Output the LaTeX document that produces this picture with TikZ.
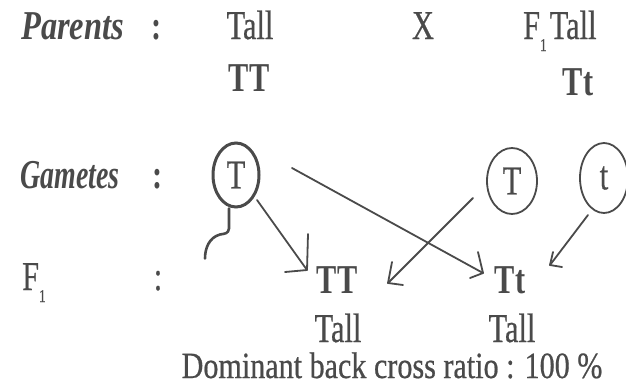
\documentclass[tikz,border=0pt]{standalone}
\usepackage{fontspec}
\setmainfont{Liberation Serif}[FakeStretch=0.74, UprightFeatures={FakeBold=0.5}]
\usetikzlibrary{shapes.geometric}
\definecolor{ink}{HTML}{4A4A4A}
\newcommand{\nodepth}[1]{\raisebox{0pt}[\height][0pt]{#1}}
\begin{document}
\begin{tikzpicture}[x=1pt,y=-1pt,
  txt/.style={inner sep=0pt, anchor=base, text=ink, font=\fontsize{41}{41}\selectfont},
  lbl/.style={txt, anchor=base west, font=\fontsize{41}{41}\selectfont\bfseries\itshape},
  gene/.style={txt, font=\fontsize{41}{41}\selectfont\bfseries},
  ring/.style={draw=ink, line width=1.8pt, ellipse, inner sep=0pt, text=ink,
    font=\fontsize{41}{41}\selectfont},
  conn/.style={draw=ink, line width=1.8pt, line cap=round, line join=round}]
\fill[white] (0,0) rectangle (626,386);
\useasboundingbox (0,0) rectangle (626,386);
% row labels
\node[lbl] (parents) at (21,39) {\scalebox{1.07}[1]{Parents}};
\node[txt] (c1) at (157,39) {\bfseries :};
\node[lbl] (gametes) at (20,188) {\scalebox{0.92}[1]{Gametes}};
\node[txt] (c2) at (158,188) {\bfseries :};
\node[txt, anchor=base west] (f1) at (22,290) {F\raisebox{-12pt}{\fontsize{18}{18}\selectfont 1}};
\node[txt] (c3) at (158,290) {:};
% parents
\node[txt] (tallA) at (250,39) {Tall};
\node[gene] (ttA) at (249,91) {TT};
\node[txt] (x) at (423,39) {X};
\node[txt, anchor=base west] (tallB) at (523,39) {F\raisebox{-12pt}{\fontsize{18}{18}\selectfont 1}\hspace{3pt}Tall};
\node[gene] (ttB) at (578,95) {Tt};
% gametes
\node[ring, line width=3pt, minimum width=46pt, minimum height=64pt] (gT1) at (236,175) {T};
\node[ring, minimum width=50pt, minimum height=66pt] (gT2) at (512,181) {T};
\node[ring, minimum width=48pt, minimum height=70pt] (gt) at (604,178) {t};
% tail of first gamete
\draw[ink, line width=2.6pt, line cap=round] (gT1.south) ++(-7,0) -- ++(0,20)
  .. controls +(-1,5) and +(6,-1) .. ++(-9,6)
  .. controls +(-11,3) and +(0,-10) .. ++(-15,24);
% offspring
\node[gene] (off1) at (337,293) {TT};
\node[gene] (off2) at (510,293) {Tt};
\node[txt] (tall1) at (338,342) {\nodepth{Tall}};
\node[txt] (tall2) at (512,342) {\nodepth{Tall}};
\node[txt, font=\fontsize{37}{37}\selectfont] (ratio) at (392,378)
  {\nodepth{\scalebox{1.1}[1]{Dominant back cross ratio : 100 \%}}};
% connector points
\coordinate (s1) at (257,200); \coordinate (p1) at (307,270);
\coordinate (a1) at (308,234); \coordinate (b1) at (285,272);
\coordinate (s2) at (292,168); \coordinate (p2) at (483,273);
\coordinate (a2) at (478,252); \coordinate (b2) at (470,278);
\coordinate (s3) at (473,198); \coordinate (p3) at (388,283);
\coordinate (a3) at (392,262); \coordinate (b3) at (403,285);
\coordinate (s4) at (588,215); \coordinate (p4) at (550,265);
\coordinate (a4) at (553,252); \coordinate (b4) at (562,267);
\draw[conn] (s1) -- (p1); \draw[conn] (a1) -- (p1) -- (b1);
\draw[conn] (s2) -- (p2); \draw[conn] (a2) -- (p2) -- (b2);
\draw[conn] (s3) -- (p3); \draw[conn] (a3) -- (p3) -- (b3);
\draw[conn] (s4) -- (p4); \draw[conn] (a4) -- (p4) -- (b4);
\end{tikzpicture}
\end{document}
